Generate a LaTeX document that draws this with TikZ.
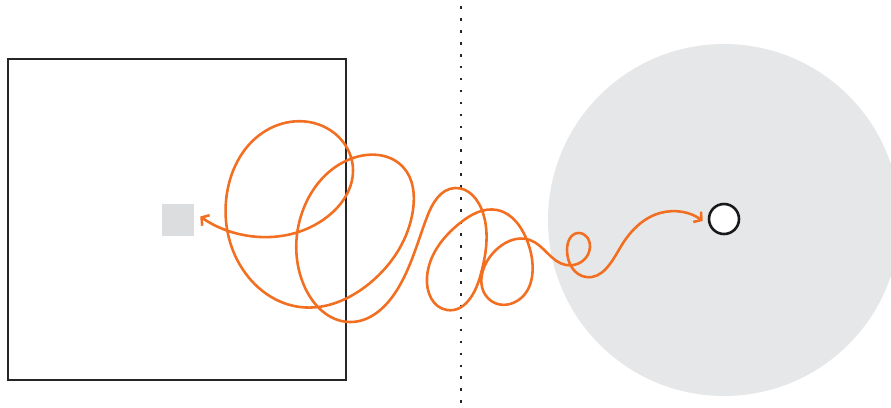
\documentclass[tikz,border=0pt]{standalone}
\usepackage{tikz}
\usetikzlibrary{arrows.meta, positioning, calc, hobby}

\definecolor{walkorange}{HTML}{F26F21}
\definecolor{zonegray}{HTML}{E6E7E8}
\definecolor{markgray}{HTML}{DCDDDF}

\begin{document}
\begin{tikzpicture}[
    x=0.03cm, y=-0.03cm,
    frame/.style={
        draw=black!85,
        line width=2pt
    },
    divider/.style={
        draw=black!85,
        line width=2.3pt,
        dash pattern=on 2.3pt off 7.9pt
    },
    zone/.style={
        fill=zonegray
    },
    marker/.style={
        fill=markgray,
        minimum size=0.96cm,
        inner sep=0pt
    },
    hole/.style={
        circle,
        draw=black!90,
        fill=white,
        line width=2.2pt,
        minimum size=0.9cm,
        inner sep=0pt
    },
    walk/.style={
        draw=walkorange,
        line width=2.2pt,
        use Hobby shortcut,
        {Straight Barb[length=4.5pt,width=11pt]}-{Straight Barb[length=4.5pt,width=11pt]}
    }
]

\useasboundingbox (0,0) rectangle (891,407);
\clip (0,0) rectangle (891,407);

% ------------------------------------------------------------
% Right: grey zone with the hole
% ------------------------------------------------------------
\fill[zone] (724,220) circle [radius=5.28cm];
\node[hole] (hole) at (724,219) {};

% ------------------------------------------------------------
% Left: box with the small marker
% ------------------------------------------------------------
\draw[frame] (8,59) rectangle (346,380);
\node[marker] (mark) at (178,219.5) {};

% dotted divider
\coordinate (top) at (461,6);
\coordinate (bottom) at (461,404);
\draw[divider] (top) -- (bottom);

% ------------------------------------------------------------
% The wandering path, from the hole to the marker
% ------------------------------------------------------------
\coordinate (walkstart) at ($(mark.east)+(6,-3)$);
\coordinate (walkend) at ($(hole.west)+(-5,2)$);
\draw[walk] (walkstart) .. (260,237) .. (327,217)
    .. (353,170) .. (330,130) .. (267,130)
    .. (227,193) .. (240,265) .. (300,307)
    .. (370,283) .. (413,210) .. (403,167)
    .. (353,158) .. (303,210) .. (303,283)
    .. (350,322) .. (397,290) .. (427,217)
    .. (455,188) .. (483,213) .. (480,277)
    .. (447,310) .. (427,277) .. (460,223)
    .. (497,210) .. (528,243) .. (513,303)
    .. (490,300) .. (493,253) .. (530,240)
    .. (566,265) .. (590,247) .. (578,233)
    .. (567,250) .. (586,277) .. (620,248)
    .. (660,213) .. (walkend);

\end{tikzpicture}
\end{document}
